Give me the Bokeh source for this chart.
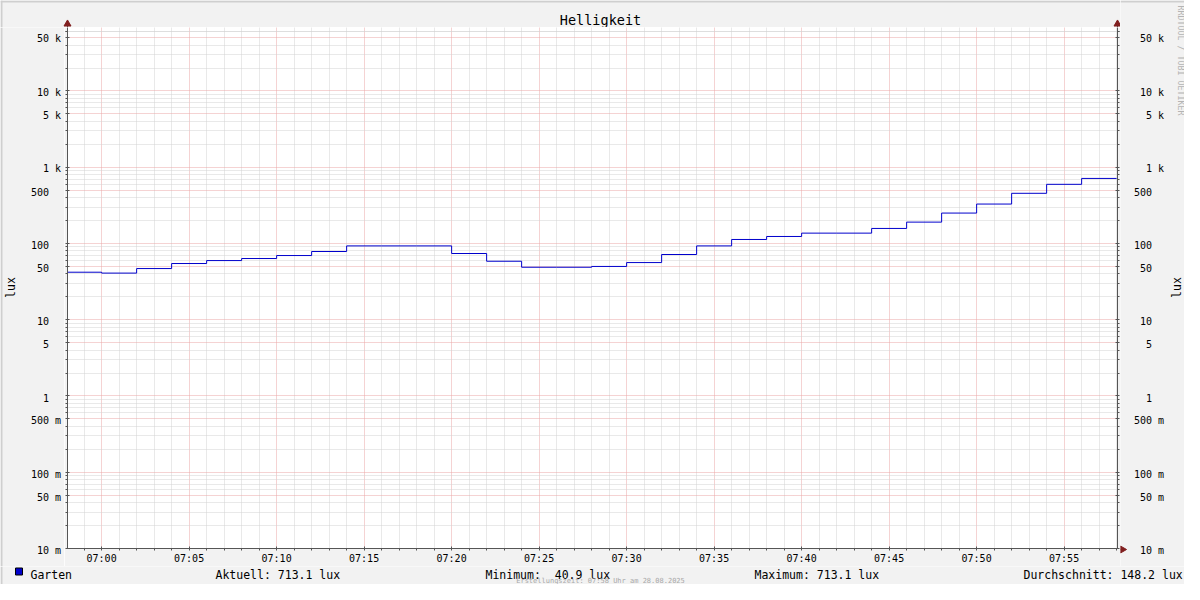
import math
import numpy as np
from bokeh.plotting import figure
from bokeh.layouts import column, row
from bokeh.models import (Range1d, FixedTicker, DatetimeTickFormatter, CustomJSTickFormatter,
                          LogAxis, LogScale)
from bokeh.core.properties import value
from bokeh.embed import file_html
from bokeh.resources import INLINE

# ---------------- data ----------------
chart_title = "Helligkeit"
series_name = "Garten"
unit_label = "lux"
chart_date = "2025-08-28"
view_start = "06:58:03"
view_end = "07:58:03"
sample_times = ["06:58", "07:00", "07:02", "07:04", "07:06", "07:08", "07:10", "07:12",
                "07:14", "07:16", "07:18", "07:20", "07:22", "07:24", "07:26", "07:28",
                "07:30", "07:32", "07:34", "07:36", "07:38", "07:40", "07:42", "07:44",
                "07:46", "07:48", "07:50", "07:52", "07:54", "07:56"]
lux_values = [42.0, 40.9, 46.9, 54.6, 59.7, 63.5, 69.5, 78.5,
              93.0, 93.0, 93.0, 73.9, 58.5, 48.8, 48.8, 50.0,
              56.2, 71.7, 93.0, 112.9, 123.6, 136.7, 136.7, 157.5,
              190.7, 250.5, 329.0, 455.0, 597.0, 713.1]
series_end = "07:58"
stat_names = ["Aktuell:", "Minimum:", "Maximum:", "Durchschnitt:"]
stat_values = [713.1, 40.9, 713.1, 148.2]
xtick_times = ["07:00", "07:05", "07:10", "07:15", "07:20", "07:25",
               "07:30", "07:35", "07:40", "07:45", "07:50", "07:55"]
ytick_values = [0.01, 0.05, 0.1, 0.5, 1, 5, 10, 50, 100, 500, 1000, 5000, 10000, 50000]
ytick_labels = ["10 m", "50 m", "100 m", "500 m", "1", "5", "10", "50", "100", "500",
                "1 k", "5 k", "10 k", "50 k"]
y_min, y_max = 0.01, 68000
footer_text = "Erstellungszeit: 07:58 Uhr am 28.08.2025"
watermark_text = "RRDTOOL / TOBI OETIKER"

# ---------------- layout / style ----------------
BG = "#F2F2F2"
MONO = "DejaVu Sans Mono"
AXIS_COL = "#555555"
ARROW_COL = "#801F1F"
LINE_COL = "#0000CC"
SHADE_A = "#CFCFCF"
TOT_W, TOT_H = 1184, 584
FL, FR, FT, FB = 67, 1117, 27, 549      # plot frame (page pixels)
LEFT_W = 64                              # left strip width
RIGHT_X = 1120                           # start of right strip
MAIN_BOTTOM = 566                        # bottom of the main row


def to_ms(t):
    return float(np.datetime64(f"{chart_date}T{t}", "ms").astype("int64"))


x0, x1 = to_ms(view_start), to_ms(view_end)


def dy(ay):
    """page pixel row -> value on the log lux scale"""
    lo, hi = math.log10(y_min), math.log10(y_max)
    return 10 ** (lo + (FB - ay) * (hi - lo) / (FB - FT))


def strip(w, h, px0, py0):
    f = figure(width=w, height=h, x_range=Range1d(px0, px0 + w), y_range=Range1d(py0 + h, py0),
               min_border=0, x_axis_location=None, y_axis_location=None,
               toolbar_location=None, output_backend="svg", frame_align=False)
    f.background_fill_color = BG
    f.border_fill_color = BG
    f.outline_line_color = None
    f.grid.visible = False
    return f


def txt(f, xs, ys, texts, size, align="left", baseline="alphabetic", color="black",
        angle=0.0, y_range_name="default", y_offset=0):
    f.text(x=xs, y=ys, text=texts, text_font=value(MONO), text_font_size=value(size),
           text_align=align, text_baseline=baseline, text_color=color, angle=angle,
           y_range_name=y_range_name, y_offset=y_offset)


# ---------------- main plot ----------------
main = figure(width=RIGHT_X - LEFT_W, height=MAIN_BOTTOM - FT,
              x_axis_type="datetime", y_axis_type="log",
              x_range=Range1d(x0, x1), y_range=Range1d(y_min, y_max),
              min_border_left=FL - LEFT_W, min_border_right=RIGHT_X - FR,
              min_border_top=0, min_border_bottom=MAIN_BOTTOM - FB,
              output_backend="svg", toolbar_location=None, frame_align=False)
main.background_fill_color = "white"
main.border_fill_color = BG
main.outline_line_color = None

x_major = [to_ms(t) for t in xtick_times]
x_minor = [v for v in np.arange(to_ms("06:59"), to_ms("07:58") + 1, 60000.0).tolist()
           if all(abs(v - m) > 1 for m in x_major)]
y_minor = [m * 10.0 ** k for k in range(-2, 5) for m in (2, 3, 4, 6, 7, 8, 9)] + [60000.0]
xt = FixedTicker(ticks=x_major, minor_ticks=x_minor)
yt = FixedTicker(ticks=ytick_values, minor_ticks=y_minor)

xax = main.xaxis[0]
xax.ticker = xt
xax.formatter = DatetimeTickFormatter(seconds="%H:%M", minsec="%H:%M", minutes="%H:%M",
                                      hourmin="%H:%M", hours="%H:%M")
main.xgrid[0].ticker = xt

blank = CustomJSTickFormatter(code="return '';")
yax = main.yaxis[0]
yax.ticker = yt
yax.formatter = blank
main.ygrid[0].ticker = yt
rax = LogAxis(ticker=yt, formatter=blank)
main.add_layout(rax, "right")

for ax in (xax, yax, rax):
    ax.axis_line_color = AXIS_COL
    ax.major_tick_line_color = AXIS_COL
    ax.minor_tick_line_color = AXIS_COL
    ax.major_label_text_font = MONO
    ax.major_label_text_font_size = "10px"
    ax.major_label_text_color = "black"
    ax.major_tick_in = 2
    ax.major_tick_out = 2
    ax.minor_tick_in = 0
    ax.minor_tick_out = 2
xax.major_label_standoff = 2
yax.major_label_standoff = 0
rax.major_label_standoff = 0

for g in (main.xgrid[0], main.ygrid[0]):
    g.grid_line_color = "#EAA6A6"
    g.grid_line_dash = "1 1"
    g.minor_grid_line_color = "#D2D2D2"
    g.minor_grid_line_dash = "1 1"

xs = [to_ms(t) for t in sample_times] + [to_ms(series_end)]
ys = lux_values + [lux_values[-1]]
main.step(x=xs, y=ys, mode="after", line_color=LINE_COL, line_width=1)

# ---------------- top strip: title + axis arrows ----------------
top = strip(RIGHT_X, FT, 0, 0)
top.segment(x0=[0], y0=[1], x1=[RIGHT_X], y1=[1], line_color=SHADE_A, line_width=2)
top.segment(x0=[1], y0=[0], x1=[1], y1=[FT], line_color=SHADE_A, line_width=2)
txt(top, [600], [19.5], [chart_title], "13.5px", align="center")
top.segment(x0=[FL, FR], y0=[25, 25], x1=[FL, FR], y1=[FT, FT], line_color=AXIS_COL)
top.scatter(x=[FL, FR], y=[23.5, 23.5], marker="triangle", size=7,
            fill_color=ARROW_COL, line_color=ARROW_COL)

# ---------------- left strip: y tick labels + unit ----------------
left = strip(LEFT_W, MAIN_BOTTOM - FT, 0, FT)
left.extra_y_ranges = {"lg": Range1d(dy(MAIN_BOTTOM), dy(FT))}
left.extra_y_scales = {"lg": LogScale()}
left.segment(x0=[1], y0=[FT], x1=[1], y1=[MAIN_BOTTOM], line_color=SHADE_A, line_width=2)
suf_v = [v for v, l in zip(ytick_values, ytick_labels) if " " in l]
suf_l = [l for l in ytick_labels if " " in l]
pln_v = [v for v, l in zip(ytick_values, ytick_labels) if " " not in l]
pln_l = [l for l in ytick_labels if " " not in l]
CH = 6.02  # width of one 10px mono character
txt(left, [60.5] * len(suf_v), suf_v, suf_l, "10px", align="right", baseline="middle",
    y_range_name="lg", y_offset=1)
txt(left, [60.5 - 2 * CH] * len(pln_v), pln_v, pln_l, "10px", align="right", baseline="middle",
    y_range_name="lg", y_offset=1)
txt(left, [10], [287], [unit_label], "11.5px", align="center", baseline="middle",
    angle=math.pi / 2)

# ---------------- right strip: y tick labels, unit, watermark ----------------
right = strip(TOT_W - RIGHT_X, MAIN_BOTTOM, RIGHT_X, 0)
right.extra_y_ranges = {"lg": Range1d(dy(MAIN_BOTTOM), dy(0))}
right.extra_y_scales = {"lg": LogScale()}
right.segment(x0=[RIGHT_X], y0=[1], x1=[TOT_W], y1=[1], line_color=SHADE_A, line_width=2)
txt(right, [1163.5] * len(suf_v), suf_v, suf_l, "10px", align="right", baseline="middle",
    y_range_name="lg", y_offset=1)
txt(right, [1163.5 - 2 * CH] * len(pln_v), pln_v, pln_l, "10px", align="right",
    baseline="middle", y_range_name="lg", y_offset=1)
txt(right, [1176.5], [287], [unit_label], "11.5px", align="center", baseline="middle",
    angle=math.pi / 2)
txt(right, [1180], [5], [watermark_text], "8.3px", align="left", baseline="middle",
    color="#B4B4B4", angle=-math.pi / 2)
right.segment(x0=[RIGHT_X], y0=[FB], x1=[1121], y1=[FB], line_color=AXIS_COL)
right.scatter(x=[1122], y=[FB], marker="triangle", size=7, angle=-math.pi / 2,
              fill_color=ARROW_COL, line_color=ARROW_COL)

# ---------------- bottom strip: legend + footer ----------------
bottom = strip(TOT_W, TOT_H - MAIN_BOTTOM, 0, MAIN_BOTTOM)
bottom.segment(x0=[1], y0=[MAIN_BOTTOM], x1=[1], y1=[TOT_H], line_color=SHADE_A, line_width=2)
LEG_Y = 574.5
bottom.quad(left=[15], right=[22], top=[LEG_Y - 7], bottom=[LEG_Y],
            fill_color=LINE_COL, line_color="black", line_width=1)
stat_x = [215, 485, 754, 1023]
stat_texts = [f"{n} {v:5.1f} {unit_label}".replace("  ", " \u00a0")
              for n, v in zip(stat_names, stat_values)]
txt(bottom, [30] + stat_x, [LEG_Y] * 5, [series_name] + stat_texts, "11.5px")
txt(bottom, [600], [580.5], [footer_text], "7px", align="center", color="#A8A8A8")

layout = column(row(column(top, row(left, main)), right), bottom)
open("out.html", "w").write(file_html(layout, INLINE))
